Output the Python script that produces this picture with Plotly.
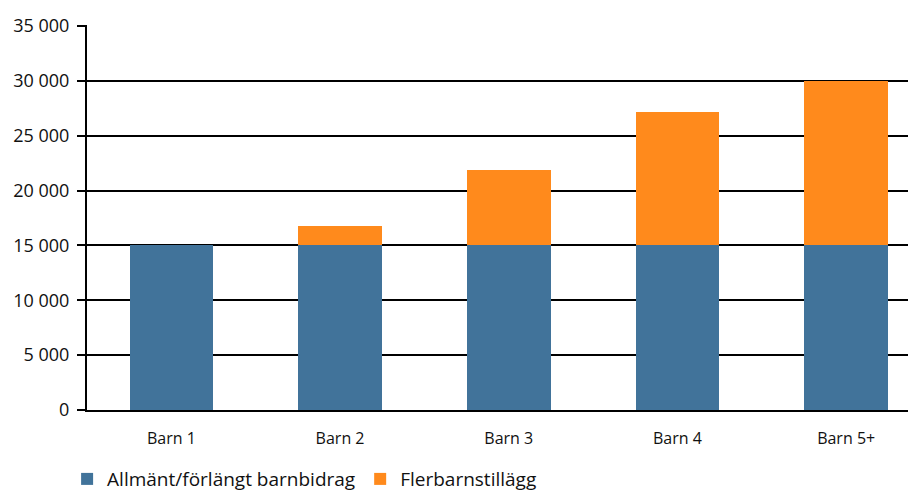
import plotly.graph_objects as go

categories = ["Barn 1", "Barn 2", "Barn 3", "Barn 4", "Barn 5+"]
allmant = [15000, 15000, 15000, 15000, 15000]
flerbarn = [0, 1800, 6900, 12120, 15000]
tickvals = [0, 5000, 10000, 15000, 20000, 25000, 30000, 35000]
ticktext = ["0", "5 000", "10 000", "15 000", "20 000", "25 000", "30 000", "35 000"]

fig = go.Figure()
fig.add_bar(x=categories, y=allmant, name="Allmänt/förlängt barnbidrag",
            marker=dict(color="#41739A", line=dict(width=0)))
fig.add_bar(x=categories, y=flerbarn, name="Flerbarnstillägg",
            marker=dict(color="#FF8A1C", line=dict(width=0)))

# page body has an 8px default margin, so the figure is drawn 8px smaller
fig.update_layout(
    barmode="stack",
    bargap=0.505,
    width=908, height=484,
    margin=dict(l=79, r=0, t=17, b=82, autoexpand=False),
    plot_bgcolor="white", paper_bgcolor="white",
    font=dict(family="Open Sans, Lato, sans-serif", size=17, color="#111111"),
    legend=dict(orientation="h", x=-0.024, y=-0.13, xanchor="left", yanchor="top",
                font=dict(size=19), itemwidth=30, traceorder="normal",
                tracegroupgap=0, borderwidth=0),
    showlegend=True,
)
fig.update_yaxes(range=[0, 35080], tickvals=tickvals, ticktext=ticktext,
                 tickfont=dict(size=18),
                 showgrid=True, gridcolor="black", gridwidth=2,
                 showline=True, linecolor="black", linewidth=2,
                 ticks="outside", ticklen=8, tickcolor="black", tickwidth=2,
                 zeroline=False, ticklabelstandoff=4, automargin=False)
fig.update_xaxes(range=[-0.5, 4.414], showline=True, linecolor="black", linewidth=2,
                 ticks="", tickfont=dict(size=16),
                 ticklabelstandoff=13, automargin=False)

fig.write_html("out.html")
